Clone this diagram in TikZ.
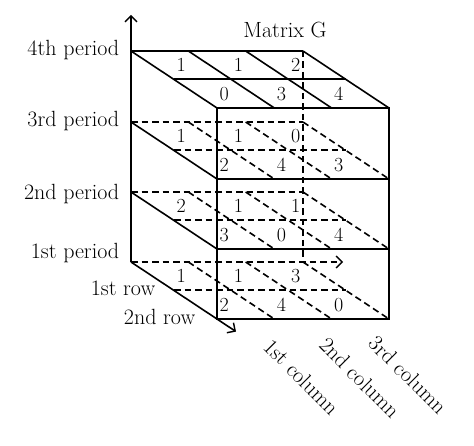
\documentclass[tikz,border=0pt]{standalone}
\usetikzlibrary{arrows.meta}
\begin{document}
\begin{tikzpicture}[x=1pt,y=-1pt, line width=1.6pt,
  dashl/.style={dash pattern=on 6.5pt off 4pt},
  tipped/.style={-{Straight Barb[length=6pt,width=12pt,line width=1.4pt]}},
  lab/.style={font=\fontsize{22}{26}\selectfont, inner sep=0pt},
  num/.style={font=\fontsize{20}{24}\selectfont, inner sep=0pt}]
\useasboundingbox (0,0) rectangle (474,446);

% top layer (4th period), solid
\draw (131,51) -- (303,51);
\foreach \c in {0,1,2,3} \draw (131+57.33*\c,51) -- ++(86,57);
\draw (174,79) -- (346,79);

% 3rd and 2nd period layers
\foreach \yb in {122,192} {
  \draw[dashl] (131,\yb) -- (303,\yb);
  \draw (131,\yb) -- ++(86,57);
  \foreach \c in {1,2,3} \draw[dashl] (131+57.33*\c,\yb) -- ++(86,57);
  \draw[dashl] (174,\yb+28) -- (346,\yb+28);
}

% 1st period layer with axes
\draw[dashl,tipped] (131,262) -- (343,262);
\draw[tipped] (131,262) -- (236,331.6);
\foreach \c in {1,2,3} \draw[dashl] (131+57.33*\c,262) -- ++(86,57);
\draw[dashl] (174,290) -- (346,290);

% vertical axis and hidden back edge
\draw[tipped] (131,262) -- (131,15);
\draw[dashl] (303,51) -- (303,262);

% front face
\draw (217,108) rectangle (389,319);
\draw (217,179) -- (389,179);
\draw (217,249) -- (389,249);

% numbers
\foreach \yb/\r/\c/\v [count=\i] in {
  51/0/0/1, 51/0/1/1, 51/0/2/2, 51/1/0/0, 51/1/1/3, 51/1/2/4,
  122/0/0/1, 122/0/1/1, 122/0/2/0, 122/1/0/2, 122/1/1/4, 122/1/2/3,
  192/0/0/2, 192/0/1/1, 192/0/2/1, 192/1/0/3, 192/1/1/0, 192/1/2/4,
  262/0/0/1, 262/0/1/1, 262/0/2/3, 262/1/0/2, 262/1/1/4, 262/1/2/0}
  \node[num] (n\i) at (131+57.33*\c+28.67+43*\r+21.5, \yb+14.25+28.5*\r) {\v};

% labels
\node[lab] (title) at (285,30) {Matrix G};
\node[lab, anchor=east] (p4) at (120,50) {4th period};
\node[lab, anchor=east] (p3) at (120,121) {3rd period};
\node[lab, anchor=east] (p2) at (120,194) {2nd period};
\node[lab, anchor=east] (p1) at (120,253) {1st period};
\node[lab, anchor=east] (r1) at (156,288) {1st row};
\node[lab, anchor=east] (r2) at (196,317) {2nd row};
\node[lab, rotate=-45] (c1) at (302,377) {1st column};
\node[lab, rotate=-45] (c2) at (360,378) {2nd column};
\node[lab, rotate=-45] (c3) at (408,375) {3rd column};
\end{tikzpicture}
\end{document}
